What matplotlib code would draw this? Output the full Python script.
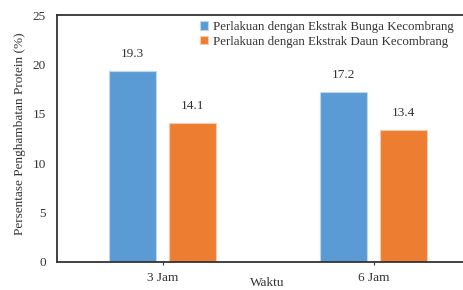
import matplotlib
matplotlib.use("Agg")
import matplotlib.pyplot as plt
import numpy as np

categories = ["3 Jam", "6 Jam"]
series_names = ["Perlakuan dengan Ekstrak Bunga Kecombrang",
                "Perlakuan dengan Ekstrak Daun Kecombrang"]
bunga = [19.3, 17.2]
daun = [14.1, 13.4]
y_ticks = [0, 5, 10, 15, 20, 25]

plt.rcParams['font.family'] = ['Liberation Serif', 'DejaVu Serif']

W, H = 463, 290
fs = 9.5
fig = plt.figure(figsize=(W/100, H/100), dpi=100)
ax = fig.add_axes([57/W, 28/H, (479-57)/W, (262-15)/H])

x = np.arange(len(categories))
bw = 0.222
off = 0.141
colors = ["#5B9BD5", "#ED7D31"]
edges = ["#BDD7EE", "#F8CBAD"]
for vals, sgn, c, e, name in [(bunga, -1, colors[0], edges[0], series_names[0]),
                              (daun, 1, colors[1], edges[1], series_names[1])]:
    bars = ax.bar(x + sgn*off, vals, width=bw, color=c, edgecolor=e, linewidth=0.8, label=name)
    for b, v in zip(bars, vals):
        ax.annotate(f"{v:.1f}", (b.get_x() + b.get_width()/2, v), xytext=(0, 11),
                    textcoords='offset pixels', ha='center', va='bottom', fontsize=fs, color='#333333')

ax.set_xlim(-0.5, 1.5)
ax.set_ylim(0, 25)
ax.set_yticks(y_ticks)
ax.set_xticks(x)
ax.set_xticklabels(categories)
ax.tick_params(axis='y', length=0, pad=8, labelsize=fs, colors='#333333')
ax.tick_params(axis='x', length=2, pad=5, labelsize=fs, colors='#333333')
for s in ['top', 'left', 'bottom']:
    ax.spines[s].set_color('#333333')
    ax.spines[s].set_linewidth(1.3)
ax.spines['right'].set_visible(False)

ax.set_xlabel("Waktu", fontsize=fs, color='#333333')
ax.xaxis.set_label_coords((267-57)/(479-57), -(283-262)/(262-15))
ax.xaxis.label.set_va('center')
ax.set_ylabel("Persentase Penghambatan Protein (%)", fontsize=fs, color='#333333')
ax.yaxis.set_label_coords(-(57-20)/(479-57), (262-134)/(262-15))
ax.yaxis.label.set_va('center')

leg = ax.legend(loc='upper left', bbox_to_anchor=(200/W, 1-21/H), bbox_transform=fig.transFigure,
                frameon=False, fontsize=9.3, handlelength=0.6, handleheight=0.6,
                handletextpad=0.4, labelspacing=0.22, borderpad=0, borderaxespad=0)
for t in leg.get_texts():
    t.set_color('#333333')

fig.savefig("out.png", dpi=100)
